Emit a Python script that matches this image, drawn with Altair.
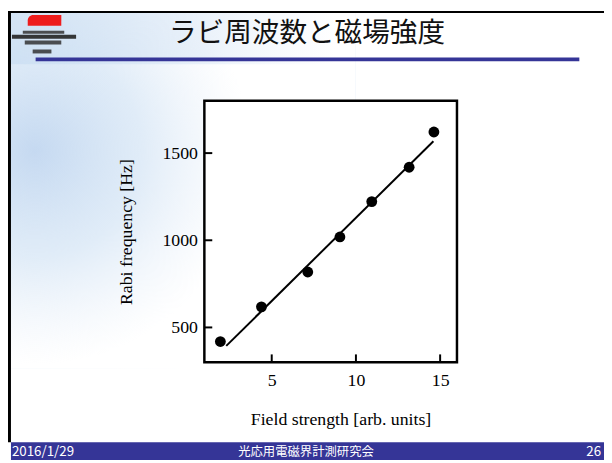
import altair as alt
import pandas as pd

# ---- data ----
field = [1.95, 4.39, 7.14, 9.05, 10.94, 13.16, 14.63]
rabi = [419, 618, 818, 1019, 1222, 1419, 1621]
fit_x = [2.3, 14.6]
fit_y = [394, 1568]
x_ticks = [5, 10, 15]
y_ticks = [500, 1000, 1500]

title_text = "ラビ周波数と磁場強度"
x_title = "Field strength [arb. units]"
y_title = "Rabi frequency [Hz]"
footer_left = "2016/1/29"
footer_center = "光応用電磁界計測研究会"
footer_right = "26"

W, H = 256, 265
SERIF = "Liberation Serif"
JP = "Noto Sans CJK JP"
NAVY = "#353597"

pts = pd.DataFrame({"x": field, "y": rabi})
fit = pd.DataFrame({"x": fit_x, "y": fit_y})
xt = pd.DataFrame({"x": x_ticks})
yt = pd.DataFrame({"y": y_ticks})
one = pd.DataFrame({"d": [0]})

xscale = alt.Scale(domain=[1, 16], nice=False, zero=False)
yscale = alt.Scale(domain=[300, 1800], nice=False, zero=False)
xaxis = alt.Axis(values=x_ticks, title=x_title, grid=False, domain=False, ticks=False,
                 format="d",
                 labelFont=SERIF, labelFontSize=18, labelColor="black",
                 labelBaseline="alphabetic", labelPadding=24,
                 titleFont=SERIF, titleFontSize=18, titleFontWeight="normal",
                 titleColor="black", titleX=138, titleY=63,
                 titleBaseline="alphabetic", titleAlign="center", zindex=1)
yaxis = alt.Axis(values=y_ticks, title=y_title, grid=False, domain=False, ticks=False,
                 format="d",
                 labelFont=SERIF, labelFontSize=18, labelColor="black",
                 labelPadding=7,
                 titleFont=SERIF, titleFontSize=18, titleFontWeight="normal",
                 titleColor="black", titleX=-74, titleY=132.5, titleAngle=270,
                 titleBaseline="alphabetic", titleAlign="center", zindex=1)
X = alt.X("x:Q", scale=xscale, axis=xaxis)
Y = alt.Y("y:Q", scale=yscale, axis=yaxis)


def box(x, x2, y, y2, **kw):
    return alt.Chart(one).mark_rect(**kw).encode(
        x=alt.value(x), x2=alt.value(x2), y=alt.value(y), y2=alt.value(y2))


def label(x, y, text, **kw):
    return alt.Chart(one).mark_text(**kw).encode(
        x=alt.value(x), y=alt.value(y), text=alt.value(text))


header_band = box(-199, 133, -91, -37, fill={
    "gradient": "linear",
    "x1": 0, "y1": 0, "x2": 1, "y2": 0,
    "stops": [
        {"offset": 0, "color": "rgba(200,220,241,0.85)"},
        {"offset": 0.6, "color": "rgba(214,229,245,0.5)"},
        {"offset": 1, "color": "rgba(225,235,247,0)"},
    ]})

watermark = box(-199, 153, -91, 271, fill={
    "gradient": "radial",
    "x1": 0.09, "y1": 0.39, "r1": 0,
    "x2": 0.09, "y2": 0.39, "r2": 0.6,
    "stops": [
        {"offset": 0, "color": "rgba(194,215,240,0.95)"},
        {"offset": 0.5, "color": "rgba(208,226,244,0.65)"},
        {"offset": 1, "color": "rgba(225,235,247,0)"},
    ]})

frame = box(0, W, 0, H, fill="white", stroke="black", strokeWidth=2.5)

logo = [
    box(-179, -145, -87, -76, fill="#ee1c1c", cornerRadiusTopLeft=11),
    box(-184, -142, -71, -68, fill="#333333", opacity=0.85),
    box(-195, -130, -67, -63, fill="#222222", opacity=0.9),
    box(-182, -145, -61, -57, fill="#333333", opacity=0.85),
    box(-174, -155, -52, -48, fill="#333333", opacity=0.85),
]

header_line = box(-171, 380, -44, -40, fill=NAVY)
title = label(104, -68, title_text, font=JP, fontSize=28, color="#111111",
              align="center", baseline="middle")

border_top = box(-199, 405, -91, -89, fill="black")
border_left = box(-199, -196, -91, 346, fill="black")
footer = box(-196, 405, 346, 364, fill=NAVY)
f_left = label(-195, 360, footer_left, font=JP, fontSize=13.5, color="white",
               align="left", baseline="alphabetic")
f_center = label(103, 360, footer_center, font=JP, fontSize=12.5, color="white",
                 align="center", baseline="alphabetic")
f_right = label(402, 360, footer_right, font=JP, fontSize=13.5, color="white",
                align="right", baseline="alphabetic")

xtick_rules = alt.Chart(xt).mark_rule(color="black", strokeWidth=2).encode(
    x=X, y=alt.value(H), y2=alt.value(H - 8))
ytick_rules = alt.Chart(yt).mark_rule(color="black", strokeWidth=2).encode(
    y=Y, x=alt.value(0), x2=alt.value(8))

fit_line = alt.Chart(fit).mark_line(color="black", strokeWidth=2).encode(x=X, y=Y)
points = alt.Chart(pts).mark_circle(color="black", opacity=1, size=120).encode(x=X, y=Y)

chart = alt.layer(
    header_band, watermark, frame, *logo, header_line, title,
    border_top, border_left, footer, f_left, f_center, f_right,
    xtick_rules, ytick_rules, fit_line, points,
).properties(
    width=W, height=H,
    padding={"left": 199, "top": 91, "right": 149, "bottom": 99},
    autosize=alt.AutoSizeParams(type="none"),
    background="white",
).configure_view(stroke=None)

chart.save("out.html", embed_options={"renderer": "svg", "actions": False})
